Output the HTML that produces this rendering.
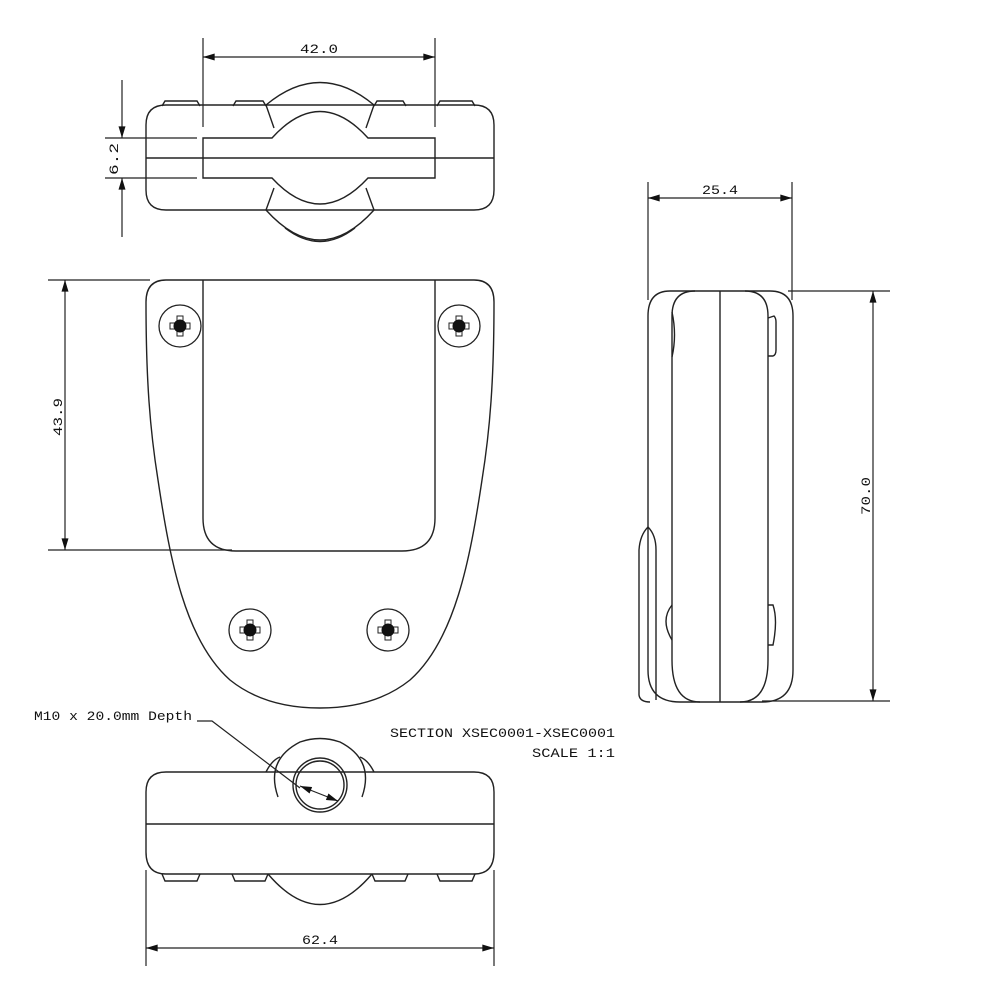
<!DOCTYPE html>
<html><head><meta charset="utf-8"><style>
html,body{margin:0;padding:0;background:#fff;}
svg{display:block;}
text{font-family:"Liberation Mono","DejaVu Sans Mono",monospace;fill:#111;}
</style></head><body>
<svg width="1000" height="1000" viewBox="0 0 1000 1000" xmlns="http://www.w3.org/2000/svg">
<defs>
<marker id="a" viewBox="0 0 10 6" refX="10" refY="3" markerWidth="17" markerHeight="7" markerUnits="userSpaceOnUse" orient="auto-start-reverse"><path d="M0,0 L10,3 L0,6 Z" fill="#111"/></marker>
<g id="screw">
<circle r="21" fill="none" stroke="#222" stroke-width="1.3"/>
<rect x="-3" y="-10" width="6" height="20" fill="#fff" stroke="#222" stroke-width="1"/>
<rect x="-10" y="-3" width="20" height="6" fill="#fff" stroke="#222" stroke-width="1"/>
<circle r="6.5" fill="#111"/>
</g>
</defs>
<g fill="none" stroke="#222" stroke-width="1.4">
<!-- TOP VIEW -->
<path d="M166,105 L474,105 Q494,105 494,125 L494,190 Q494,210 474,210 L166,210 Q146,210 146,190 L146,125 Q146,105 166,105 Z"/>
<path d="M162,106 L165,101 L197,101 L200,106 M233,106 L236,101 L263,101 L266,106 M374,106 L377,101 L403,101 L406,106 M437,106 L440,101 L472,101 L475,106"/>
<path d="M266,105 Q320,60 374,105"/>
<path d="M266,105 L274,128 M374,105 L366,128"/>
<path d="M203,138 L272,138 Q320,85 368,138 L435,138 L435,178 L368,178 Q320,230 272,178 L203,178 Z"/>
<line x1="146" y1="158" x2="494" y2="158"/>
<path d="M266,210 L274,188 M374,210 L366,188"/>
<path d="M266,210 Q320,270 374,210"/>
<path d="M285,228 Q320,255 355,228"/>
<g stroke-width="1.2">
<line x1="203" y1="38" x2="203" y2="127"/>
<line x1="435" y1="38" x2="435" y2="127"/>
<line x1="203" y1="57" x2="435" y2="57" marker-start="url(#a)" marker-end="url(#a)"/>
<line x1="105" y1="138" x2="197" y2="138"/>
<line x1="105" y1="178" x2="197" y2="178"/>
<line x1="122" y1="80" x2="122" y2="138" marker-end="url(#a)"/>
<line x1="122" y1="237" x2="122" y2="178" marker-end="url(#a)"/>
</g>
<!-- FRONT VIEW -->
<path d="M166,280 L474,280 Q494,280 494,302 C494,380 490,430 482,480 C470,560 455,640 410,680 C385,700 355,708 320,708 C285,708 255,700 230,680 C185,640 170,560 158,480 C150,430 146,380 146,302 Q146,280 166,280 Z"/>
<path d="M203,280 L203,518 Q203,551 236,551 L402,551 Q435,551 435,518 L435,280"/>
<g stroke-width="1.2">
<line x1="48" y1="280" x2="150" y2="280"/>
<line x1="48" y1="550" x2="232" y2="550"/>
<line x1="65" y1="280" x2="65" y2="550" marker-start="url(#a)" marker-end="url(#a)"/>
</g>
<!-- SIDE VIEW -->
<path d="M670,291 L770,291 Q793,291 793,316 L793,670 Q793,702 762,702 L680,702 Q648,702 648,670 L648,316 Q648,291 670,291 Z"/>
<path d="M695,291 Q672,291 672,316 L672,660 Q672,702 700,702 M745,291 Q768,291 768,316 L768,660 Q768,702 740,702"/>
<line x1="720" y1="291" x2="720" y2="702"/>
<path d="M648,527 Q640,535 639,550 L639,695 Q640,702 650,702"/>
<path d="M648,527 Q656,535 656,550 L656,700"/>
<path d="M672,312 Q677,335 672,357"/>
<path d="M768,318 L774,316 Q776,318 776,322 L776,350 Q776,355 773,356 L768,356"/>
<path d="M672,605 Q660,620 672,640"/>
<path d="M768,605 L773,605 Q778,620 773,645 L768,645"/>
<g stroke-width="1.2">
<line x1="648" y1="182" x2="648" y2="300"/>
<line x1="792" y1="182" x2="792" y2="300"/>
<line x1="648" y1="198" x2="792" y2="198" marker-start="url(#a)" marker-end="url(#a)"/>
<line x1="788" y1="291" x2="890" y2="291"/>
<line x1="762" y1="701" x2="890" y2="701"/>
<line x1="873" y1="291" x2="873" y2="701" marker-start="url(#a)" marker-end="url(#a)"/>
</g>
<!-- BOTTOM VIEW -->
<path d="M166,772 L474,772 Q494,772 494,792 L494,852 Q494,874 474,874 L166,874 Q146,874 146,852 L146,792 Q146,772 166,772 Z"/>
<line x1="146" y1="824" x2="494" y2="824"/>
<path d="M266,772 Q272,760 280,757 M374,772 Q368,760 360,757"/>
<path d="M278,797 Q265,760 300,742 Q320,735 340,742 Q375,760 362,797"/>
<circle cx="320" cy="785" r="27"/>
<circle cx="320" cy="785" r="24"/>
<path d="M162,874 L165,881 L197,881 L200,874 M232,874 L235,881 L265,881 L268,874 M372,874 L375,881 L405,881 L408,874 M437,874 L440,881 L472,881 L475,874"/>
<path d="M268,874 Q320,935 372,874"/>
<g stroke-width="1.2">
<line x1="146" y1="870" x2="146" y2="966"/>
<line x1="494" y1="870" x2="494" y2="966"/>
<line x1="146" y1="948" x2="494" y2="948" marker-start="url(#a)" marker-end="url(#a)"/>
<path d="M197,721 L212,721 L300,788"/>
<line x1="300" y1="786" x2="338" y2="801" marker-start="url(#a)" marker-end="url(#a)"/>
</g>
</g>
<use href="#screw" x="180" y="326"/>
<use href="#screw" x="459" y="326"/>
<use href="#screw" x="250" y="630"/>
<use href="#screw" x="388" y="630"/>
<g font-size="13">
<text x="300" y="53" textLength="38" lengthAdjust="spacingAndGlyphs">42.0</text>
<text transform="translate(118,175) rotate(-90)" textLength="32" lengthAdjust="spacingAndGlyphs">6.2</text>
<text transform="translate(62,436) rotate(-90)" textLength="38" lengthAdjust="spacingAndGlyphs">43.9</text>
<text x="702" y="194" textLength="36" lengthAdjust="spacingAndGlyphs">25.4</text>
<text transform="translate(870,515) rotate(-90)" textLength="38" lengthAdjust="spacingAndGlyphs">70.0</text>
<text x="302" y="944" textLength="36" lengthAdjust="spacingAndGlyphs">62.4</text>
<text x="34" y="720" textLength="158" lengthAdjust="spacingAndGlyphs">M10 x 20.0mm Depth</text>
<text x="390" y="737" textLength="225" lengthAdjust="spacingAndGlyphs">SECTION  XSEC0001-XSEC0001</text>
<text x="532" y="757" textLength="83" lengthAdjust="spacingAndGlyphs">SCALE  1:1</text>
</g>
</svg>
</body></html>
